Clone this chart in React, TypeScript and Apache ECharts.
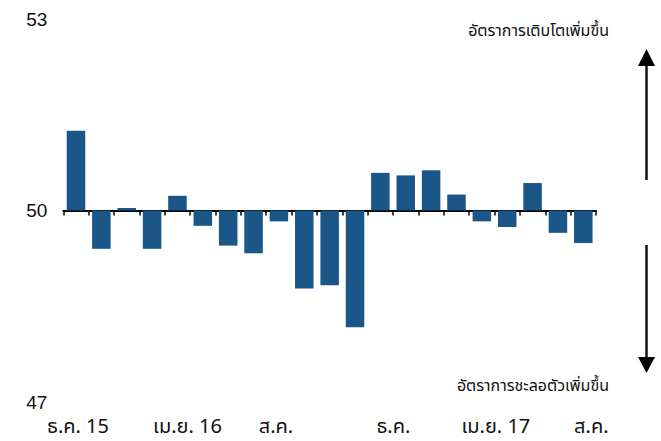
import React, { useEffect, useRef } from "react";
import * as echarts from "echarts";

const categories = [
  "ธ.ค. 15", "ม.ค.", "ก.พ.", "มี.ค.", "เม.ย. 16", "พ.ค.", "มิ.ย.", "ก.ค.", "ส.ค.", "ก.ย.", "ต.ค.",
  "พ.ย.", "ธ.ค.", "ม.ค.", "ก.พ.", "มี.ค.", "เม.ย. 17", "พ.ค.", "มิ.ย.", "ก.ค.", "ส.ค.",
];
const values = [
  51.25, 49.4, 50.04, 49.4, 50.23, 49.76, 49.45, 49.33, 49.83, 48.78, 48.83,
  48.17, 50.59, 50.55, 50.63, 50.25, 49.83, 49.74, 50.43, 49.65, 49.49,
];
const baseline = 50;
const yTicks = [47, 50, 53];
const upLabel = "อัตราการเติบโตเพิ่มขึ้น";
const downLabel = "อัตราการชะลอตัวเพิ่มขึ้น";

// horizontal nudges of the shown month labels (px), to match reference placement
const labelShift: Record<number, number> = {
  0: 2, 4: 10, 8: -3, 12: 13, 16: 14, 20: 8,
};

const thaiFont = 'Tahoma, "Noto Sans Thai", "Leelawadee UI", "DejaVu Sans", sans-serif';

export default function App() {
  const ref = useRef<HTMLDivElement>(null);
  useEffect(() => {
    if (!ref.current) return;
    const chart = echarts.init(ref.current, null, { renderer: "svg" });
    const labelData = categories.map((c, i) => {
      const dx = labelShift[i];
      if (dx === undefined) return c;
      return {
        value: c,
        textStyle: {
          padding: [0, dx < 0 ? -dx * 2 : 0, 0, dx > 0 ? dx * 2 : 0],
        },
      };
    });
    chart.setOption({
      animation: false,
      grid: { left: 63.3, right: 65, top: 19, bottom: 39, containLabel: false },
      xAxis: [
        {
          type: "category",
          data: categories,
          axisLine: { onZero: true, lineStyle: { color: "#000", width: 2 } },
          axisTick: { show: true, interval: 0, length: 5, lineStyle: { color: "#000", width: 1.5 } },
          axisLabel: { show: false },
          splitLine: { show: false },
        },
        {
          type: "category",
          data: labelData,
          position: "bottom",
          axisLine: { show: false, onZero: false },
          axisTick: { show: false },
          axisLabel: {
            interval: 3,
            margin: 14,
            fontSize: 20,
            lineHeight: 22,
            color: "#111",
            fontFamily: thaiFont,
          },
          splitLine: { show: false },
        },
      ],
      yAxis: {
        type: "value",
        min: yTicks[0] - baseline,
        max: yTicks[2] - baseline,
        interval: 3,
        axisLine: { show: false },
        axisTick: { show: false },
        splitLine: { show: false },
        axisLabel: {
          margin: 16,
          fontSize: 19,
          color: "#111",
          fontFamily: '"Liberation Sans", Arial, sans-serif',
          formatter: (v: number) => String(Math.round(v + baseline)),
        },
      },
      series: [
        {
          type: "bar",
          xAxisIndex: 0,
          data: values.map((v) => +(v - baseline).toFixed(2)),
          barCategoryGap: "27%",
          itemStyle: { color: "#1a5788" },
        },
      ],
      graphic: [
        {
          type: "text",
          right: 52,
          top: 23,
          style: { text: upLabel, fontSize: 16, fill: "#111", fontFamily: thaiFont },
        },
        {
          type: "text",
          right: 52,
          top: 378,
          style: { text: downLabel, fontSize: 16, fill: "#111", fontFamily: thaiFont },
        },
        {
          type: "line",
          shape: { x1: 646.5, y1: 62, x2: 646.5, y2: 180 },
          style: { stroke: "#111", lineWidth: 2.5 },
        },
        {
          type: "polygon",
          shape: { points: [[646.5, 49], [638, 66], [655, 66]] },
          style: { fill: "#000" },
        },
        {
          type: "line",
          shape: { x1: 646.5, y1: 245, x2: 646.5, y2: 360 },
          style: { stroke: "#111", lineWidth: 2.5 },
        },
        {
          type: "polygon",
          shape: { points: [[646.5, 373], [638, 357], [655, 357]] },
          style: { fill: "#000" },
        },
      ],
    });
    return () => chart.dispose();
  }, []);
  return (
    <div
      ref={ref}
      style={{ position: "fixed", left: 0, top: 0, width: 661, height: 441, background: "#fff" }}
    />
  );
}
